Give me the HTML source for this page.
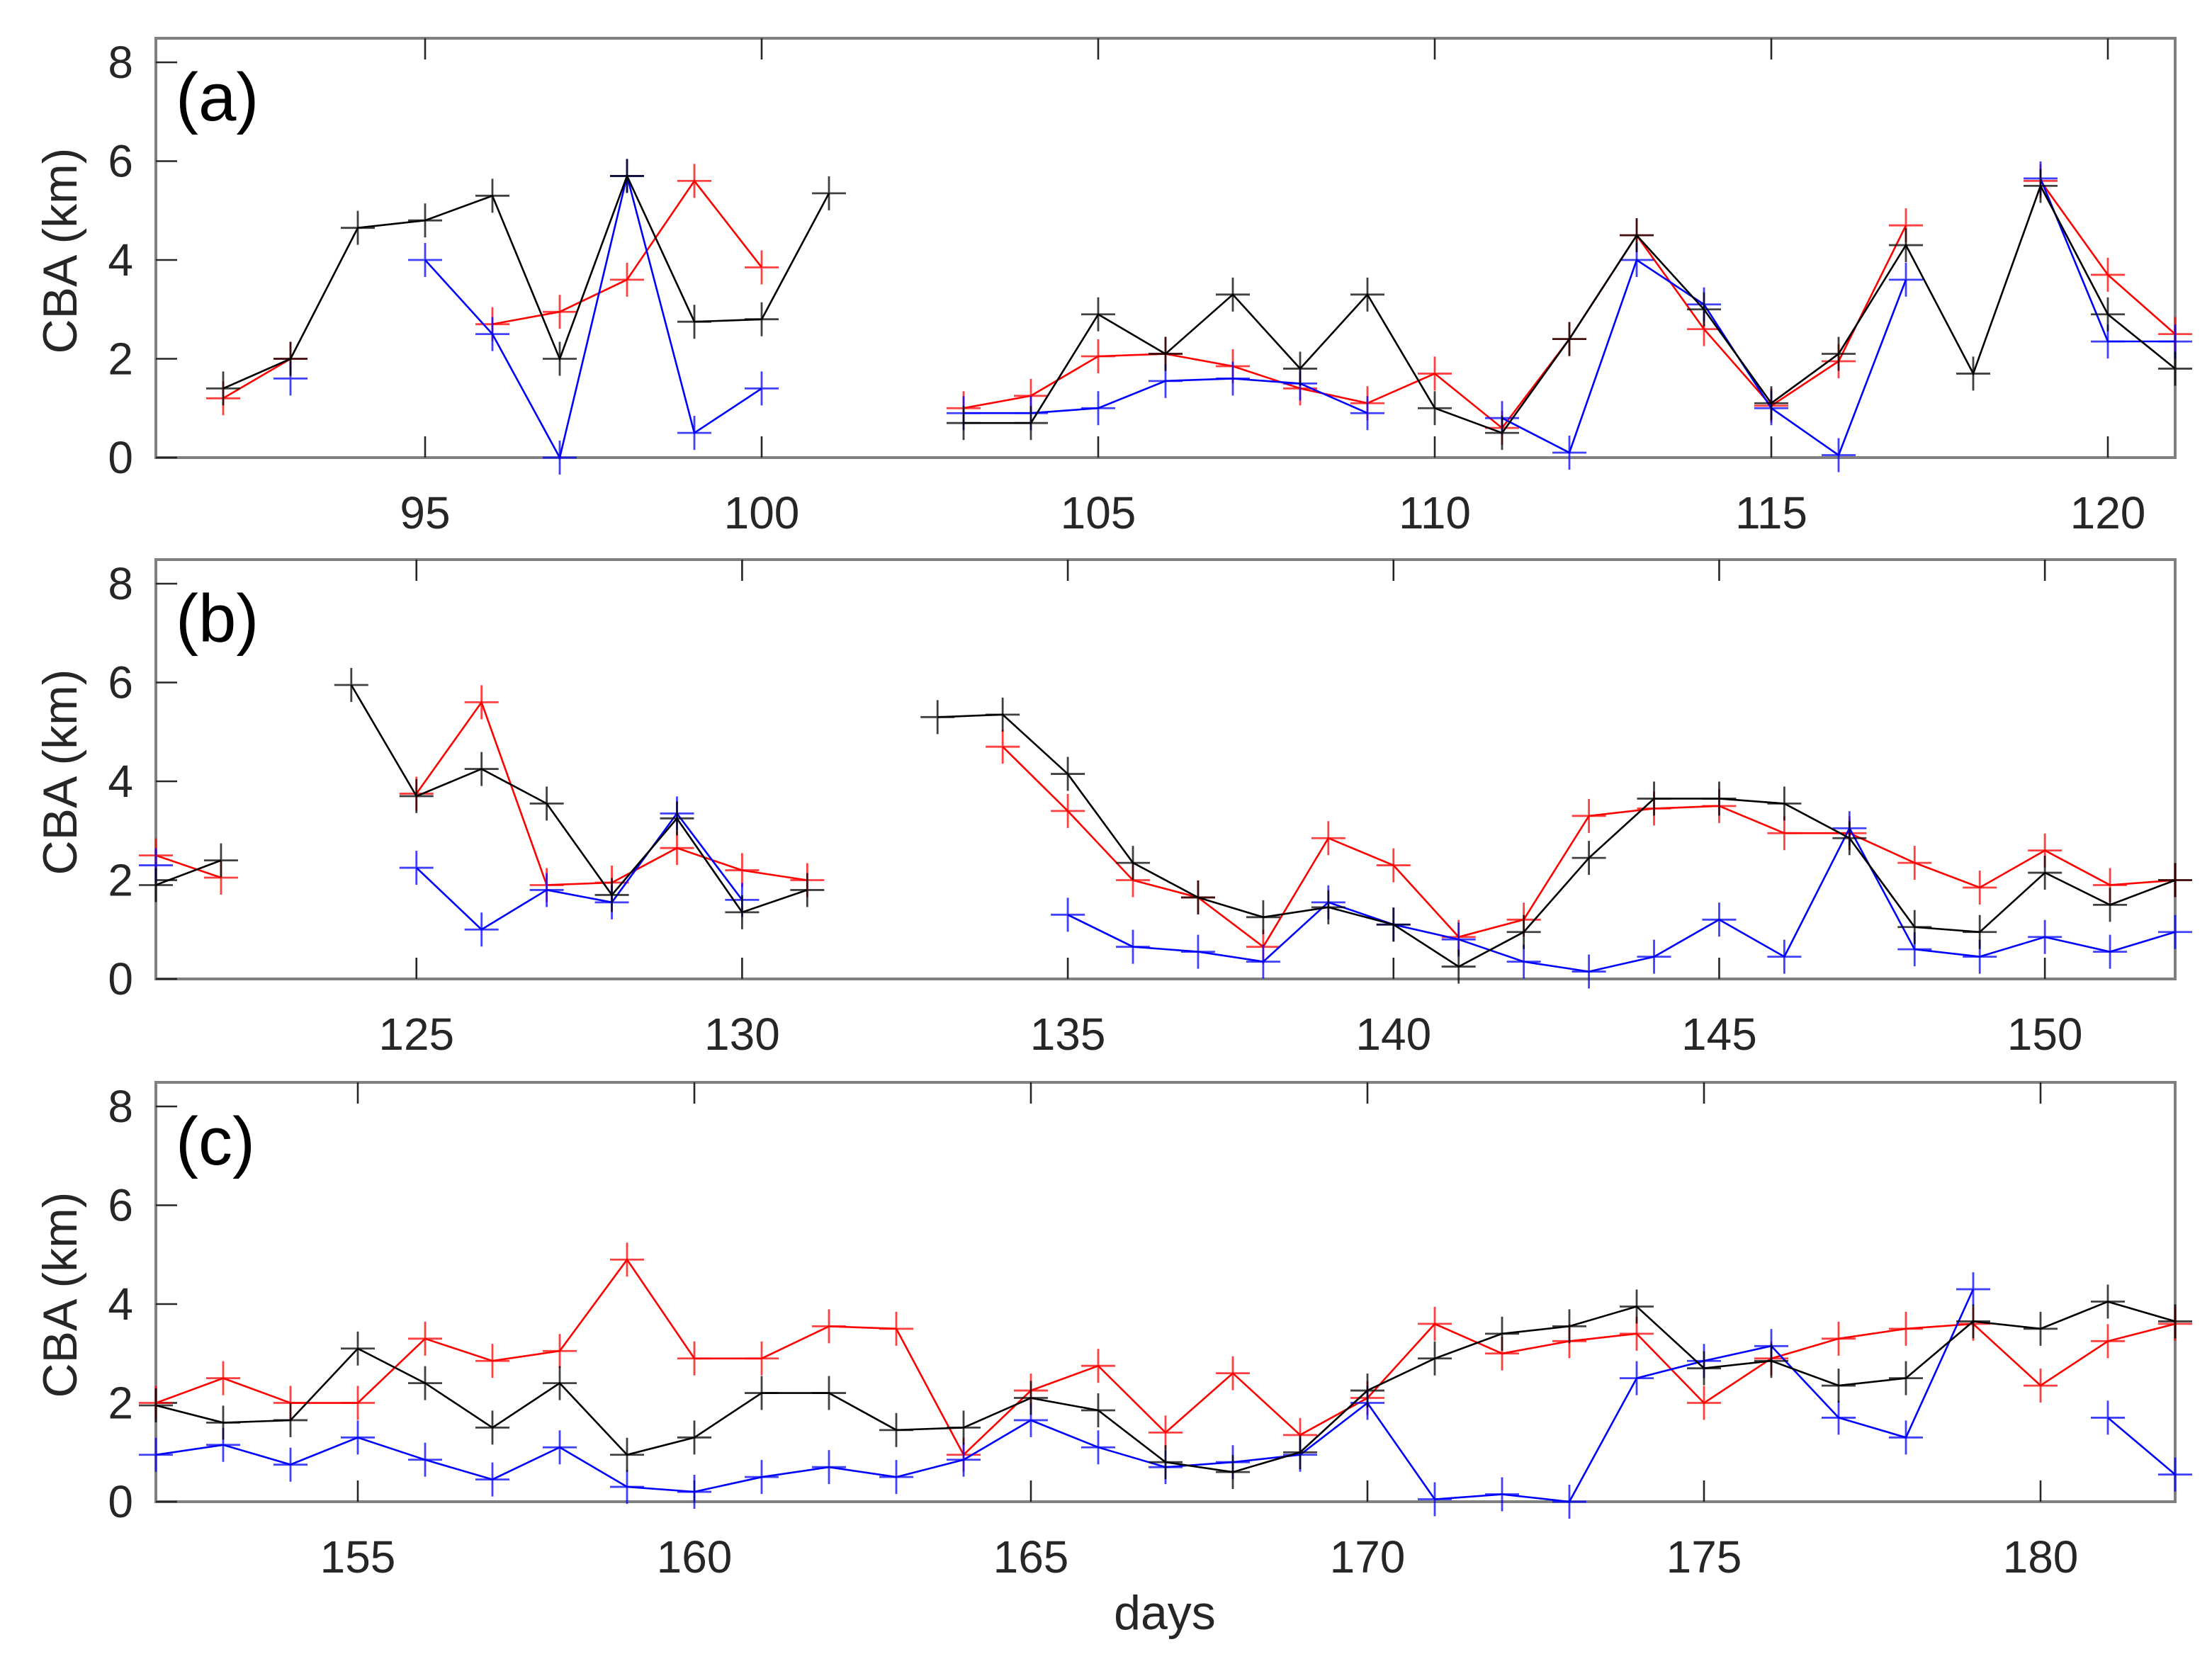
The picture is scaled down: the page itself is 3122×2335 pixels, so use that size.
<!DOCTYPE html>
<html><head><meta charset="utf-8"><style>
html,body{margin:0;padding:0;background:#fff;}
svg{display:block;font-family:"Liberation Sans",sans-serif;}
</style></head><body>
<svg id="chart" width="3122" height="2335" viewBox="0 0 1561 1167.5" xmlns="http://www.w3.org/2000/svg"></svg>
<script>
// Panel (a): days 92..121
const aStart = 92;
const aBlack = [1.4,2.0,4.65,4.8,5.3,2.0,5.7,2.75,2.8,5.35,null,0.7,0.7,2.9,2.1,3.3,1.8,3.3,1.0,0.5,2.4,4.5,3.0,1.1,2.1,4.3,1.7,5.5,2.9,1.8];
const aRed   = [1.2,2.0,null,null,2.7,2.95,3.6,5.6,3.85,null,null,1.0,1.25,2.05,2.1,1.85,1.4,1.1,1.7,0.6,2.4,4.5,2.6,1.05,1.95,4.7,null,5.6,3.7,2.5];
const aBlue  = [null,1.6,null,4.0,2.5,0.0,5.7,0.5,1.4,null,null,0.9,0.9,1.0,1.55,1.6,1.5,0.9,null,0.8,0.1,4.0,3.1,1.0,0.05,3.6,null,5.65,2.35,2.35];
// Panel (b): days 121..152
const bStart = 121;
const bBlack = [1.9,2.4,null,5.95,3.7,4.25,3.55,1.7,3.25,1.35,1.8,null,5.3,5.35,4.15,2.35,1.65,1.25,1.45,1.1,0.25,0.95,2.45,3.65,3.65,3.55,2.85,1.05,0.95,2.15,1.5,2.0];
const bRed   = [2.5,2.05,null,null,3.75,5.6,1.9,1.95,2.65,2.2,2.0,null,null,4.7,3.4,2.0,1.65,0.65,2.85,2.3,0.85,1.2,3.3,3.45,3.5,2.95,2.95,2.35,1.85,2.6,1.9,2.0];
const bBlue  = [2.3,null,null,null,2.25,1.0,1.8,1.55,3.35,1.6,null,null,null,null,1.3,0.65,0.55,0.35,1.55,1.1,0.8,0.35,0.15,0.45,1.2,0.45,3.05,0.6,0.45,0.85,0.55,0.95];
// Panel (c): days 152..182
const cStart = 152;
const cBlack = [1.95,1.6,1.65,3.1,2.4,1.5,2.4,0.95,1.3,2.2,2.2,1.45,1.5,2.1,1.85,0.8,0.6,1.0,2.25,2.9,3.4,3.55,3.95,2.7,2.85,2.35,2.5,3.65,3.5,4.05,3.65];
const cRed   = [2.0,2.5,2.0,2.0,3.3,2.85,3.05,4.9,2.9,2.9,3.55,3.5,0.95,2.25,2.75,1.4,2.6,1.35,2.1,3.6,3.0,3.25,3.4,2.0,2.9,3.3,3.5,3.6,2.35,3.25,3.6];
const cBlue  = [0.95,1.15,0.75,1.3,0.85,0.45,1.1,0.3,0.2,0.5,0.7,0.5,0.85,1.65,1.1,0.7,0.8,0.95,2.0,0.05,0.15,0.0,2.5,2.85,3.15,1.7,1.3,4.3,null,1.7,0.55];
const yTicks = [0,2,4,6,8];
const aXTicks = [95,100,105,110,115,120];
const bXTicks = [125,130,135,140,145,150];
const cXTicks = [155,160,165,170,175,180];

const NS = "http://www.w3.org/2000/svg";
const svg = document.getElementById('chart');
function mk(tag, attrs, parent){const e=document.createElementNS(NS,tag);for(const k in attrs)e.setAttribute(k,attrs[k]);(parent||svg).appendChild(e);return e;}

const X0=110, X1=1535;
const panels = [
 {label:'(a)', name:'a', top:27, bottom:323, dmin:91, dmax:121, start:aStart, series:[aBlack,aRed,aBlue], xt:aXTicks},
 {label:'(b)', name:'b', top:395, bottom:691, dmin:121, dmax:152, start:bStart, series:[bBlack,bRed,bBlue], xt:bXTicks},
 {label:'(c)', name:'c', top:764, bottom:1060, dmin:152, dmax:182, start:cStart, series:[cBlack,cRed,cBlue], xt:cXTicks}
];
const colors=['#000','#ff0000','#0000ff'];
const snames=['black-series','red-series','blue-series'];

panels.forEach(p=>{
  const g=mk('g',{});
  
  
  const y8 = p.bottom - 279;
  const xs=d=>X0+(d-p.dmin)/(p.dmax-p.dmin)*(X1-X0);
  const ys=v=>p.bottom-(v/8)*(p.bottom-y8);
  const fr=mk('rect',{x:X0,y:p.top,width:X1-X0,height:p.bottom-p.top,fill:'none',stroke:'#808080','stroke-width':2},g);
  
  
  yTicks.forEach(t=>{
    const y=ys(t);
    mk('line',{x1:X0,x2:X0+15,y1:y,y2:y,stroke:'#262626','stroke-width':1.3},g);
    const tx=mk('text',{x:94,y:y+11,'font-size':32,'text-anchor':'end',fill:'#262626'},g);
    tx.textContent=t;
    
    
  });
  p.xt.forEach(t=>{
    const x=xs(t);
    mk('line',{x1:x,x2:x,y1:p.bottom,y2:p.bottom-15,stroke:'#262626','stroke-width':1.3},g);
    mk('line',{x1:x,x2:x,y1:p.top,y2:p.top+15,stroke:'#262626','stroke-width':1.3},g);
    const tx=mk('text',{x:x,y:p.bottom+50,'font-size':32,'text-anchor':'middle',fill:'#262626'},g);
    tx.textContent=t;
    
    
  });
  const lb=mk('text',{x:124,y:p.top+58,'font-size':48,fill:'#000'},g);
  lb.textContent=p.label;
  
  
  const yt=mk('text',{x:0,y:0,'font-size':34,'text-anchor':'middle',fill:'#262626',transform:`translate(54,${(p.top+p.bottom)/2+2}) rotate(-90)`},g);
  yt.textContent='CBA (km)';
  
  
  [1,2,0].forEach(si=>{
    const vals=p.series[si]; const col=colors[si];
    const sg=mk('g',{},g);
    
    
    let d='', pen=false;
    vals.forEach((v,i)=>{
      if(v===null){pen=false;return;}
      const x=xs(p.start+i), y=ys(v);
      d+=(pen?'L':'M')+x.toFixed(1)+' '+y.toFixed(1)+' ';
      pen=true;
    });
    if(d) mk('path',{d:d,fill:'none',stroke:col,'stroke-width':1.3},sg);
    vals.forEach((v,i)=>{
      if(v===null)return;
      const x=xs(p.start+i), y=ys(v);
      const m=mk('path',{d:`M${x-12} ${y}H${x+12}M${x} ${y-12}V${y+12}`,stroke:col,'stroke-width':1.4,'stroke-opacity':0.75},sg);
      
      
    });
  });
});
const xl=mk('text',{x:822,y:1150,'font-size':34,'text-anchor':'middle',fill:'#262626'});
xl.textContent='days';


</script>
</body></html>
